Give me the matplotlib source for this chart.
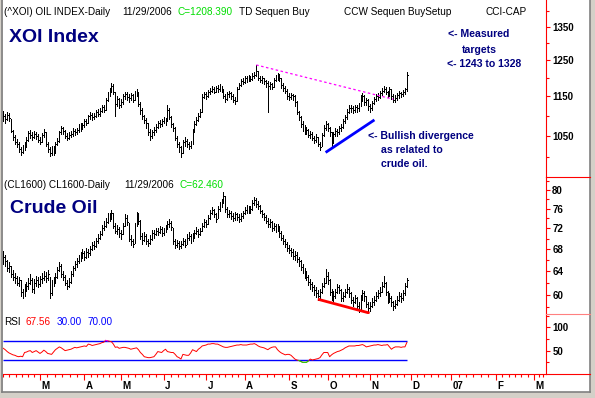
import numpy as np
import pandas as pd
import matplotlib
matplotlib.use("Agg")
import matplotlib.pyplot as plt
import matplotlib.transforms as mtransforms
from matplotlib.lines import Line2D
from matplotlib.patches import Rectangle
from matplotlib.ticker import NullFormatter

plt.rcParams['font.family'] = ['Liberation Sans', 'DejaVu Sans']

W, H = 595, 398

# NYSE closures inside the data window (future part of the axis uses plain weekdays)
HOLIDAYS = ["2006-02-20", "2006-04-14", "2006-05-29", "2006-07-04", "2006-09-04", "2006-11-23"]

# ---- XOI oil index, daily bars 2006-02-01 .. 2006-11-29 ----
xoi_close = [1098, 1090, 1102, 1094, 1062, 1048, 1035, 1030, 1018, 1012,
             1022, 1025, 1040, 1056, 1052, 1048, 1055, 1050, 1040, 1036,
             1052, 1058, 1030, 1018, 1010, 1020, 1012, 1030, 1038, 1058,
             1068, 1062, 1050, 1045, 1052, 1055, 1062, 1058, 1065, 1068,
             1072, 1075, 1085, 1082, 1098, 1102, 1095, 1100, 1108, 1105,
             1112, 1122, 1115, 1140, 1155, 1165, 1178, 1160, 1130, 1142,
             1128, 1135, 1150, 1155, 1148, 1145, 1152, 1140, 1158, 1162,
             1130, 1115, 1098, 1088, 1080, 1060, 1050, 1058, 1065, 1072,
             1080, 1078, 1085, 1090, 1082, 1115, 1095, 1078, 1070, 1045,
             1030, 1022, 1010, 1035, 1038, 1030, 1025, 1032, 1060, 1078,
             1088, 1100, 1108, 1148, 1155, 1150, 1160, 1165, 1170, 1162,
             1172, 1168, 1175, 1165, 1150, 1142, 1155, 1158, 1150, 1140,
             1138, 1170, 1180, 1192, 1188, 1198, 1195, 1202, 1196, 1205,
             1208, 1218, 1200, 1195, 1198, 1190, 1185, 1178, 1182, 1175,
             1195, 1200, 1205, 1198, 1180, 1172, 1165, 1150, 1148, 1152,
             1150, 1135, 1110, 1095, 1078, 1070, 1062, 1065, 1052, 1055,
             1045, 1040, 1048, 1030, 1022, 1052, 1070, 1078, 1068, 1060,
             1030, 1055, 1062, 1058, 1068, 1072, 1085, 1095, 1110, 1120,
             1118, 1115, 1122, 1118, 1125, 1145, 1150, 1135, 1140, 1125,
             1118, 1132, 1142, 1150, 1148, 1158, 1165, 1170, 1160, 1155,
             1168, 1150, 1140, 1145, 1152, 1158, 1155, 1160, 1168, 1208.39]
xoi_high = [1112, 1104, 1108, 1106, 1092, 1064, 1052, 1042, 1036, 1024,
            1028, 1034, 1046, 1062, 1064, 1058, 1062, 1060, 1054, 1048,
            1056, 1066, 1058, 1034, 1024, 1026, 1025, 1036, 1045, 1062,
            1074, 1072, 1064, 1056, 1058, 1062, 1068, 1066, 1070, 1078,
            1080, 1082, 1090, 1092, 1102, 1110, 1106, 1106, 1114, 1116,
            1118, 1128, 1126, 1146, 1162, 1172, 1186, 1182, 1162, 1150,
            1145, 1142, 1156, 1162, 1160, 1155, 1158, 1155, 1165, 1170,
            1160, 1135, 1118, 1102, 1094, 1082, 1066, 1065, 1072, 1078,
            1086, 1088, 1092, 1096, 1094, 1128, 1118, 1098, 1082, 1072,
            1050, 1036, 1026, 1040, 1046, 1042, 1036, 1038, 1066, 1085,
            1095, 1106, 1116, 1155, 1162, 1160, 1166, 1172, 1178, 1175,
            1178, 1180, 1182, 1178, 1168, 1155, 1160, 1165, 1162, 1155,
            1148, 1175, 1186, 1196, 1198, 1204, 1205, 1208, 1206, 1212,
            1215, 1236, 1220, 1205, 1204, 1200, 1195, 1190, 1188, 1186,
            1200, 1208, 1212, 1210, 1200, 1185, 1178, 1168, 1158, 1158,
            1156, 1152, 1138, 1112, 1098, 1085, 1076, 1072, 1066, 1062,
            1058, 1050, 1054, 1048, 1035, 1056, 1076, 1085, 1082, 1072,
            1058, 1060, 1068, 1066, 1074, 1078, 1090, 1102, 1116, 1126,
            1128, 1124, 1128, 1126, 1132, 1152, 1158, 1152, 1146, 1142,
            1130, 1138, 1148, 1156, 1158, 1164, 1172, 1178, 1175, 1165,
            1174, 1170, 1155, 1152, 1158, 1164, 1162, 1166, 1172, 1215]
xoi_low = [1085, 1082, 1088, 1086, 1058, 1040, 1030, 1022, 1012, 1005,
           1008, 1015, 1022, 1038, 1045, 1040, 1044, 1042, 1035, 1030,
           1034, 1048, 1026, 1012, 1002, 1005, 1004, 1010, 1028, 1036,
           1055, 1054, 1044, 1040, 1042, 1046, 1050, 1052, 1055, 1060,
           1062, 1066, 1072, 1075, 1080, 1092, 1088, 1090, 1096, 1098,
           1100, 1108, 1108, 1115, 1138, 1150, 1160, 1155, 1098, 1125,
           1120, 1122, 1130, 1144, 1140, 1136, 1140, 1134, 1140, 1150,
           1125, 1105, 1090, 1080, 1070, 1052, 1040, 1045, 1052, 1060,
           1068, 1072, 1074, 1080, 1076, 1085, 1090, 1072, 1062, 1040,
           1022, 1012, 1000, 1008, 1026, 1022, 1018, 1020, 1030, 1058,
           1075, 1085, 1096, 1110, 1145, 1144, 1148, 1155, 1160, 1158,
           1160, 1162, 1165, 1160, 1145, 1135, 1140, 1148, 1142, 1134,
           1130, 1138, 1168, 1178, 1182, 1185, 1188, 1192, 1190, 1194,
           1198, 1205, 1195, 1188, 1186, 1182, 1176, 1110, 1168, 1168,
           1175, 1190, 1195, 1190, 1172, 1165, 1158, 1142, 1140, 1142,
           1140, 1125, 1105, 1088, 1072, 1062, 1055, 1054, 1046, 1044,
           1040, 1032, 1036, 1025, 1015, 1025, 1050, 1065, 1062, 1050,
           1020, 1032, 1050, 1050, 1055, 1062, 1068, 1082, 1092, 1106,
           1110, 1106, 1110, 1110, 1112, 1125, 1138, 1128, 1128, 1115,
           1108, 1115, 1130, 1138, 1140, 1145, 1152, 1160, 1155, 1148,
           1150, 1142, 1135, 1136, 1140, 1146, 1148, 1150, 1155, 1165]

# ---- crude oil (CL1600) daily bars ----
crude_close = [66.5, 65.8, 64.5, 65.0, 63.5, 63.0, 62.8, 62.0, 62.5, 60.5,
               60.0, 61.2, 61.5, 62.0, 62.5, 61.0, 62.0, 62.5, 61.8, 62.6,
               62.8, 63.2, 62.8, 63.5, 60.2, 61.8, 62.5, 63.0, 64.2, 65.0,
               63.5, 63.0, 62.0, 61.5, 62.2, 63.5, 64.5, 65.2, 65.8, 66.2,
               66.8, 67.2, 66.5, 67.5, 67.2, 68.0, 68.8, 68.5, 69.5, 70.2,
               70.8, 72.0, 72.5, 73.2, 74.5, 74.0, 75.2, 72.5, 71.5, 71.8,
               71.0, 70.8, 72.5, 74.0, 73.2, 70.0, 69.5, 69.0, 72.5, 74.8,
               73.5, 70.5, 69.8, 70.5, 69.5, 69.2, 70.0, 71.0, 70.8, 71.5,
               71.2, 71.8, 71.0, 71.5, 72.0, 72.8, 73.0, 72.2, 69.5, 68.8,
               69.2, 68.5, 69.0, 69.5, 68.8, 70.2, 70.5, 69.8, 70.5, 71.0,
               71.5, 70.8, 71.5, 72.5, 73.2, 72.8, 74.0, 75.2, 75.8, 74.8,
               73.8, 76.0, 76.8, 77.5, 78.8, 76.0, 74.8, 75.2, 74.5, 74.0,
               74.8, 74.2, 73.8, 74.5, 75.0, 75.8, 76.2, 75.5, 76.0, 77.2,
               77.8, 77.0, 76.5, 75.5, 74.8, 74.2, 73.5, 72.8, 73.2, 72.0,
               72.5, 71.8, 72.2, 71.0, 70.2, 69.5, 69.0, 68.2, 67.8, 67.5,
               66.8, 67.0, 66.2, 65.8, 64.8, 64.2, 63.5, 63.0, 62.2, 61.8,
               61.2, 60.8, 60.2, 59.8, 60.5, 61.5, 62.0, 63.2, 62.5, 60.5,
               60.0, 59.8, 60.5, 61.2, 60.8, 59.5, 59.8, 60.5, 61.0, 60.2,
               59.2, 58.8, 59.5, 58.2, 57.8, 59.5, 60.2, 59.8, 58.5, 57.8,
               58.2, 58.8, 59.2, 59.8, 60.2, 60.5, 61.5, 62.0, 60.5, 59.2,
               59.5, 58.8, 58.2, 58.5, 59.2, 59.8, 59.5, 60.2, 61.5, 62.46]
crude_high = [67.6, 67.0, 66.0, 65.6, 65.0, 64.2, 63.6, 63.2, 63.0, 62.4,
              61.0, 61.8, 62.2, 62.8, 63.5, 62.8, 62.6, 63.2, 63.0, 63.2,
              63.6, 64.0, 63.8, 64.2, 63.0, 62.4, 63.0, 63.6, 64.8, 65.6,
              65.2, 64.0, 63.4, 62.5, 62.8, 64.0, 65.0, 65.8, 66.4, 67.0,
              67.5, 68.0, 67.6, 68.2, 68.0, 68.6, 69.4, 69.5, 70.2, 70.8,
              71.5, 72.6, 73.4, 74.0, 75.0, 75.2, 75.8, 75.0, 73.0, 72.6,
              72.2, 71.6, 73.0, 74.8, 74.6, 73.0, 70.6, 70.0, 73.0, 75.4,
              75.0, 73.6, 71.0, 71.2, 70.8, 70.0, 70.6, 71.6, 71.6, 72.0,
              72.0, 72.4, 72.2, 72.0, 72.6, 73.4, 73.8, 73.4, 72.0, 70.0,
              69.8, 69.6, 69.6, 70.2, 70.0, 70.8, 71.2, 70.8, 71.0, 71.6,
              72.2, 71.8, 72.0, 73.0, 73.8, 73.6, 74.6, 75.8, 76.4, 76.0,
              75.0, 76.6, 77.4, 78.0, 79.6, 78.6, 76.4, 75.8, 75.6, 75.0,
              75.4, 75.2, 74.8, 75.0, 75.6, 76.4, 76.8, 76.6, 76.6, 77.8,
              78.4, 78.2, 77.6, 76.8, 75.8, 75.2, 74.6, 74.0, 73.8, 73.4,
              73.0, 72.8, 72.8, 72.4, 71.4, 70.6, 70.0, 69.4, 68.8, 68.2,
              68.0, 67.6, 67.4, 66.6, 66.0, 65.2, 64.6, 64.0, 63.4, 62.6,
              62.2, 61.6, 61.2, 60.8, 61.0, 62.0, 62.8, 64.4, 63.8, 62.6,
              61.0, 60.6, 61.0, 61.8, 61.6, 61.0, 60.4, 61.0, 61.8, 61.2,
              60.4, 59.6, 60.0, 59.6, 58.8, 60.0, 60.8, 60.6, 59.8, 58.8,
              58.8, 59.4, 59.8, 60.4, 60.8, 61.2, 62.2, 63.2, 62.2, 60.6,
              60.2, 59.8, 59.0, 59.2, 59.8, 60.4, 60.2, 60.8, 62.0, 62.8]
crude_low = [65.2, 65.0, 64.0, 63.8, 63.0, 62.5, 62.0, 61.6, 61.5, 59.8,
             59.4, 59.8, 60.6, 61.0, 61.8, 60.5, 60.2, 61.5, 61.2, 61.5,
             62.0, 62.4, 62.2, 62.5, 59.5, 60.0, 61.4, 62.0, 62.8, 64.0,
             63.0, 62.4, 61.6, 61.0, 61.2, 62.0, 63.2, 64.2, 64.8, 65.4,
             65.8, 66.4, 66.0, 66.4, 66.6, 67.0, 67.8, 68.0, 68.4, 69.2,
             70.0, 70.6, 71.6, 72.2, 73.0, 73.4, 73.8, 72.0, 71.0, 70.8,
             70.4, 70.0, 70.8, 72.4, 72.6, 69.5, 68.8, 68.4, 69.2, 72.4,
             72.8, 70.0, 69.0, 69.6, 69.0, 68.6, 69.0, 69.8, 70.2, 70.6,
             70.6, 71.0, 70.5, 70.6, 71.2, 71.8, 72.2, 71.6, 69.0, 68.2,
             68.4, 68.0, 68.2, 68.8, 68.4, 69.0, 69.8, 69.2, 69.6, 70.2,
             70.8, 70.4, 70.6, 71.4, 72.2, 72.2, 72.8, 73.8, 74.8, 74.2,
             73.2, 74.0, 75.6, 76.4, 77.2, 75.4, 74.2, 74.2, 73.8, 73.4,
             73.6, 73.6, 73.2, 73.4, 74.0, 74.8, 75.2, 75.0, 75.0, 75.8,
             76.8, 76.4, 76.0, 75.0, 74.2, 73.6, 73.0, 72.2, 72.2, 71.4,
             71.6, 71.2, 71.4, 70.4, 69.8, 69.0, 68.4, 67.6, 67.2, 66.8,
             66.2, 66.0, 65.6, 65.0, 64.2, 63.6, 62.8, 62.4, 61.6, 61.0,
             60.6, 60.0, 59.6, 59.2, 59.4, 60.2, 61.2, 62.0, 61.8, 60.0,
             59.2, 59.0, 59.4, 60.2, 60.2, 59.0, 59.0, 59.6, 60.2, 59.6,
             58.6, 58.2, 58.6, 57.8, 57.2, 57.6, 59.2, 59.0, 58.0, 57.2,
             57.4, 58.0, 58.4, 59.0, 59.4, 59.8, 60.4, 61.2, 60.0, 58.6,
             58.8, 58.2, 57.6, 57.8, 58.4, 59.0, 58.8, 59.2, 60.0, 61.2]

# ---- RSI of XOI ----
rsi = [55, 52, 48, 45, 43, 41, 40, 38, 37, 38,
       37, 46, 47, 49, 50, 46, 48, 50, 47, 44,
       47, 51, 48, 44, 43, 42, 47, 52, 55, 58,
       56, 53, 50, 51, 52, 53, 55, 57, 56, 57,
       58, 59, 60, 59, 64, 63, 61, 62, 63, 64,
       65, 67, 68, 72, 71, 70, 69, 64, 57, 58,
       55, 56, 57, 57, 56, 55, 53, 54, 55, 56,
       52, 46, 42, 37, 36, 35, 35, 36, 37, 42,
       48, 47, 46, 50, 53, 48, 47, 46, 46, 42,
       37, 35, 32, 42, 41, 40, 40, 45, 52, 50,
       48, 53, 56, 60, 61, 62, 64, 64, 65, 65,
       64, 64, 62, 60, 58, 57, 57, 58, 59, 60,
       61, 62, 62, 63, 62, 62, 62, 63, 64, 64,
       65, 63, 60, 58, 57, 56, 54, 52, 55, 57,
       58, 58, 52, 48, 45, 43, 41, 42, 42, 40,
       36, 32, 30, 29, 27, 25, 25, 25, 28, 32,
       30, 31, 32, 33, 35, 41, 46, 46, 46, 37,
       41, 44, 46, 48, 49, 51, 53, 56, 58, 60,
       60, 60, 60, 61, 61, 62, 63, 61, 58, 59,
       60, 61, 62, 62, 63, 62, 61, 62, 62, 63,
       58, 53, 56, 58, 58, 58, 57, 58, 58, 67.56]
RSI_LEVELS = [30, 70]

# hand-drawn trend lines (bar index, price)
xoi_resist_x, xoi_resist_y = [131, 202], [1236, 1142]
xoi_support_x, xoi_support_y = [167.5, 191.6], [1012, 1087]
crude_trend_x, crude_trend_y = [163.6, 189.0], [59.2, 57.1]

XOI_TICKS, XOI_MINOR = [1050, 1150, 1250, 1350], [1000, 1100, 1200, 1300, 1400]
CL_TICKS, CL_MINOR = [60, 64, 68, 72, 76, 80], [58, 62, 66, 70, 74, 78, 82]
RSI_TICKS, RSI_MINOR = [50, 100], [25, 75, 125]

NAVY = "#000080"
GREEN = "#00dd00"


def box(x0, y0, x1, y1):
    return [x0 / W, 1 - y1 / H, (x1 - x0) / W, (y1 - y0) / H]


def fx(x):
    return x / W


def fy(y):
    return 1 - y / H


def ftext(x, y, s, **kw):
    kw.setdefault("fontsize", 7.2)
    kw.setdefault("va", "center")
    fig.text(fx(x), fy(y), s, **kw)


past = pd.bdate_range("2006-02-01", "2006-11-29", freq="C", holidays=HOLIDAYS)
future = pd.bdate_range("2006-11-30", "2007-03-20")
dates = past.append(future)
n = len(xoi_close)
idx = np.arange(n)

XMIN, XMAX = -0.16, 281.05

fig = plt.figure(figsize=(W / 100, H / 100), dpi=100)
fig.patch.set_facecolor("#d4d0c8")
fig.add_artist(Rectangle((fx(3), fy(392)), fx(587), 392 / H, transform=fig.transFigure,
                         facecolor="white", edgecolor="none", zorder=-5))
for xs, ys in [([2, 2], [0, 392]), ([2, 590], [392, 392]), ([590, 590], [0, 392])]:
    fig.add_artist(Line2D([fx(v) for v in xs], [fy(v) for v in ys], color="#808080", lw=1.2))

ax1 = fig.add_axes(box(3, 0, 546, 177))
ax2 = fig.add_axes(box(3, 177, 546, 314))
ax3 = fig.add_axes(box(3, 314, 546, 374))


def style_axis(ax, major, minor, scale="log"):
    ax.set_facecolor("none")
    ax.set_yscale(scale)
    ax.set_xlim(XMIN, XMAX)
    for s in ["top", "left", "bottom"]:
        ax.spines[s].set_visible(False)
    ax.spines["right"].set_color("red")
    ax.spines["right"].set_linewidth(0.8)
    ax.yaxis.tick_right()
    ax.set_yticks(major, labels=[str(v) for v in major])
    ax.set_yticks(minor, minor=True)
    ax.yaxis.set_minor_formatter(NullFormatter())
    ax.tick_params(axis="y", which="both", colors="red", labelcolor="black",
                   direction="out", labelsize=7, pad=1.5, width=0.8)
    ax.tick_params(axis="y", which="major", length=3)
    ax.tick_params(axis="y", which="minor", length=2)
    for lbl in ax.get_yticklabels():
        lbl.set_fontweight("bold")
    ax.set_xticks([])


def draw_bars(ax, hi, lo, cl):
    ax.vlines(idx, lo, hi, colors="black", lw=0.55, antialiased=False)
    ax.hlines(cl, idx, idx + 0.45, colors="black", lw=0.55, antialiased=False)


style_axis(ax1, XOI_TICKS, XOI_MINOR)
ax1.set_ylim(954.6, 1435.7)
draw_bars(ax1, xoi_high, xoi_low, xoi_close)
ax1.plot(xoi_resist_x, xoi_resist_y, color="#ff00ff", lw=0.9, ls=(0, (2, 2)))
ax1.plot(xoi_support_x, xoi_support_y, color="#0000ff", lw=2.0)

style_axis(ax2, CL_TICKS, CL_MINOR)
ax2.set_ylim(56.9, 82.91)
draw_bars(ax2, crude_high, crude_low, crude_close)
ax2.plot(crude_trend_x, crude_trend_y, color="red", lw=2.0)

style_axis(ax3, RSI_TICKS, RSI_MINOR, scale="linear")
ax3.set_ylim(0, 128.4)
ax3.hlines(RSI_LEVELS, XMIN, n - 1, colors="#0000ff", lw=1.0)
r = np.array(rsi, dtype=float)
ax3.plot(idx, r, color="red", lw=0.7)
ax3.plot(idx, np.ma.masked_where(r <= 70, r), color="#ff00ff", lw=0.7)
ax3.plot(idx, np.ma.masked_where(r >= 30, r), color="#00ee00", lw=0.7)

# month axis under the RSI pane
ax3.spines["bottom"].set_visible(True)
ax3.spines["bottom"].set_color("red")
ax3.spines["bottom"].set_linewidth(0.8)
starts = [i for i in range(1, len(dates)) if dates[i].month != dates[i - 1].month]
labels = ["07" if dates[i].month == 1 else dates[i].strftime("%b")[0] for i in starts]
ax3.set_xticks(starts, labels=labels)
edges = [0] + starts + [int(XMAX) + 7]
minor = []
for a, b in zip(edges[:-1], edges[1:]):
    minor.extend(np.linspace(a, b, 7)[:-1])
ax3.set_xticks([m for m in minor if m not in starts and m < XMAX], minor=True)
ax3.tick_params(axis="x", which="both", colors="red", labelcolor="black",
                direction="out", labelsize=7, pad=0.8, width=0.8)
ax3.tick_params(axis="x", which="major", length=4.3)
ax3.tick_params(axis="x", which="minor", length=2.2)
shift = mtransforms.ScaledTranslation(1.5 / 100, 0, fig.dpi_scale_trans)
for lbl in ax3.get_xticklabels():
    lbl.set_ha("left")
    lbl.set_fontweight("bold")
    lbl.set_transform(lbl.get_transform() + shift)

# right-hand separators
fig.add_artist(Line2D([fx(546), fx(590)], [fy(177), fy(177)], color="red", lw=0.8))
fig.add_artist(Line2D([fx(546), fx(590)], [fy(314), fy(314)], color="#ff8080", lw=0.8))
fig.add_artist(Line2D([fx(546), fx(590)], [fy(374), fy(374)], color="red", lw=0.8))

# header lines
ftext(4, 12, "(^XOI) OIL INDEX-Daily")
ftext(122, 12, "11/29/2006")
ftext(177, 12, f"C={xoi_close[-1]:.3f}", color=GREEN)
ftext(239, 12, "TD Sequen Buy")
ftext(344, 12, "CCW Sequen BuySetup")
ftext(485, 12, "CCI-CAP")
ftext(9, 38, "XOI Index", fontsize=14, fontweight="bold", color=NAVY)

ftext(4, 185, "(CL1600) CL1600-Daily")
ftext(124, 185, "11/29/2006")
ftext(180, 185, f"C={crude_close[-1]:.3f}", color=GREEN)
ftext(10, 208, "Crude Oil", fontsize=14, fontweight="bold", color=NAVY)

ftext(4, 322, "RSI")
ftext(26, 322, f"{rsi[-1]:.2f}", color="red")
ftext(57, 322, f"{RSI_LEVELS[0]:.2f}", color="#0000ff")
ftext(88, 322, f"{RSI_LEVELS[1]:.2f}", color="#0000ff")

note = dict(fontsize=7.6, fontweight="bold", color=NAVY)
ftext(448, 34, "<- Measured", **note)
ftext(462, 50, "targets", **note)
ftext(447, 64, "<- 1243 to 1328", **note)
ftext(368, 136, "<- Bullish divergence", **note)
ftext(381, 150, "as related to", **note)
ftext(381, 164, "crude oil.", **note)

fig.savefig("out.png", dpi=100, facecolor=fig.get_facecolor())
